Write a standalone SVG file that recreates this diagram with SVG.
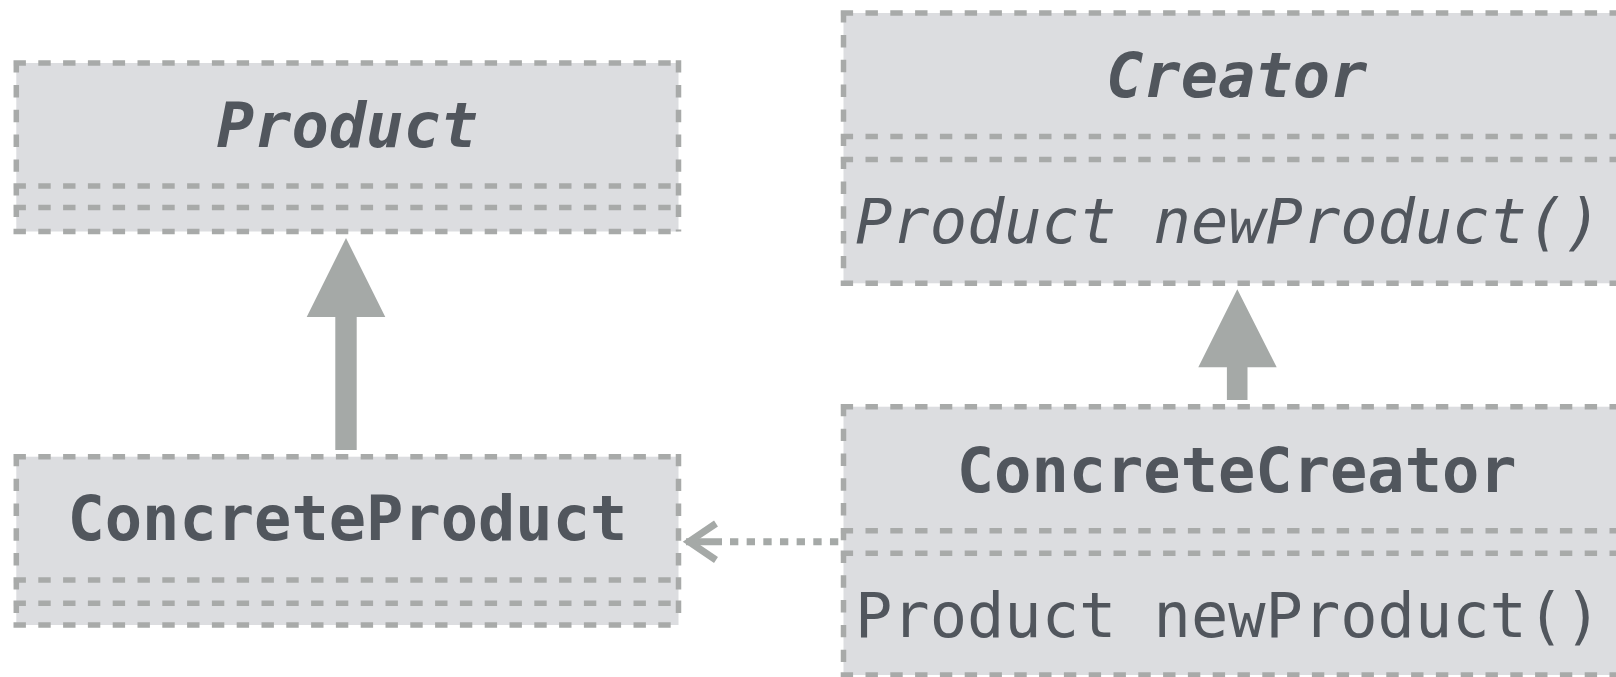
<svg xmlns="http://www.w3.org/2000/svg" width="1616" height="677" viewBox="0 0 1616 677">
  <style>
    .fill { fill: #dcdde0; stroke: none; }
    .edge { fill: none; stroke: #a8aaa9; stroke-width: 5.5; stroke-dasharray: 12.4 12.4; }
    .label { font-family: "DejaVu Sans Mono", "Liberation Mono", monospace; font-size: 62px; fill: #51565d; }
    .title { font-weight: bold; text-anchor: middle; }
    .abstract { font-style: italic; }
    .inherit { fill: #a5a9a7; stroke: none; }
    .dep { fill: none; stroke: #a5a9a7; stroke-width: 7; }
  </style>

  <rect width="1616" height="677" fill="#ffffff"/>

  <!-- Abstract product class -->
  <g id="product">
    <rect class="fill" x="16.3" y="63" width="662.2" height="168.5"/>
    <path class="edge" d="M13.5,63 H681.3 M13.5,186 H681.3 M13.5,207.5 H681.3 M13.5,231.5 H681.3
      M16.3,60.2 V186 M16.3,183.2 V207.5 M16.3,204.7 V231.5
      M678.5,60.2 V186 M678.5,183.2 V207.5 M678.5,204.7 V231.5"/>
    <text class="label title abstract" x="347.4" y="146.7">Product</text>
  </g>

  <!-- Concrete product class -->
  <g id="concrete-product">
    <rect class="fill" x="16.3" y="456.7" width="662.2" height="168.3"/>
    <path class="edge" d="M13.5,456.7 H681.3 M13.5,580 H681.3 M13.5,603.3 H681.3 M13.5,625 H681.3
      M16.3,453.9 V580 M16.3,577.2 V603.3 M16.3,600.5 V625
      M678.5,453.9 V580 M678.5,577.2 V603.3 M678.5,600.5 V625"/>
    <text class="label title" x="347.4" y="540">ConcreteProduct</text>
  </g>

  <!-- Abstract creator class -->
  <g id="creator">
    <rect class="fill" x="843.5" y="13" width="786.5" height="270.3"/>
    <path class="edge" d="M840.7,13 H1632.8 M840.7,136.5 H1632.8 M840.7,159.5 H1632.8 M840.7,283.3 H1632.8
      M843.5,10.2 V136.5 M843.5,133.7 V159.5 M843.5,156.7 V283.3"/>
    <text class="label title abstract" x="1236.7" y="97.3">Creator</text>
    <text class="label abstract" x="855" y="243.3">Product newProduct()</text>
  </g>

  <!-- Concrete creator class -->
  <g id="concrete-creator">
    <rect class="fill" x="843.5" y="406.7" width="786.5" height="268.3"/>
    <path class="edge" d="M840.7,406.7 H1632.8 M840.7,530.7 H1632.8 M840.7,553.3 H1632.8 M840.7,675 H1632.8
      M843.5,403.9 V530.7 M843.5,527.9 V553.3 M843.5,550.5 V675"/>
    <text class="label title" x="1236.7" y="491.7">ConcreteCreator</text>
    <text class="label" x="855" y="637.3">Product newProduct()</text>
  </g>

  <!-- Relations: generalisation arrows and the creation dependency -->
  <g id="connectors">
    <path class="inherit" d="M346,238 L385.3,317 H356.7 V450 H335.3 V317 H306.7 Z"/>
    <path class="inherit" d="M1237.3,289.3 L1276.7,367.3 H1247.5 V400 H1226.9 V367.3 H1198.3 Z"/>
    <path class="dep" d="M686,541.7 H722"/>
    <path class="dep" stroke-dasharray="8.33 8.33" d="M730,541.7 H838.5"/>
    <polyline class="dep" points="716,523.5 689,541.7 716,560"/>
  </g>
</svg>
